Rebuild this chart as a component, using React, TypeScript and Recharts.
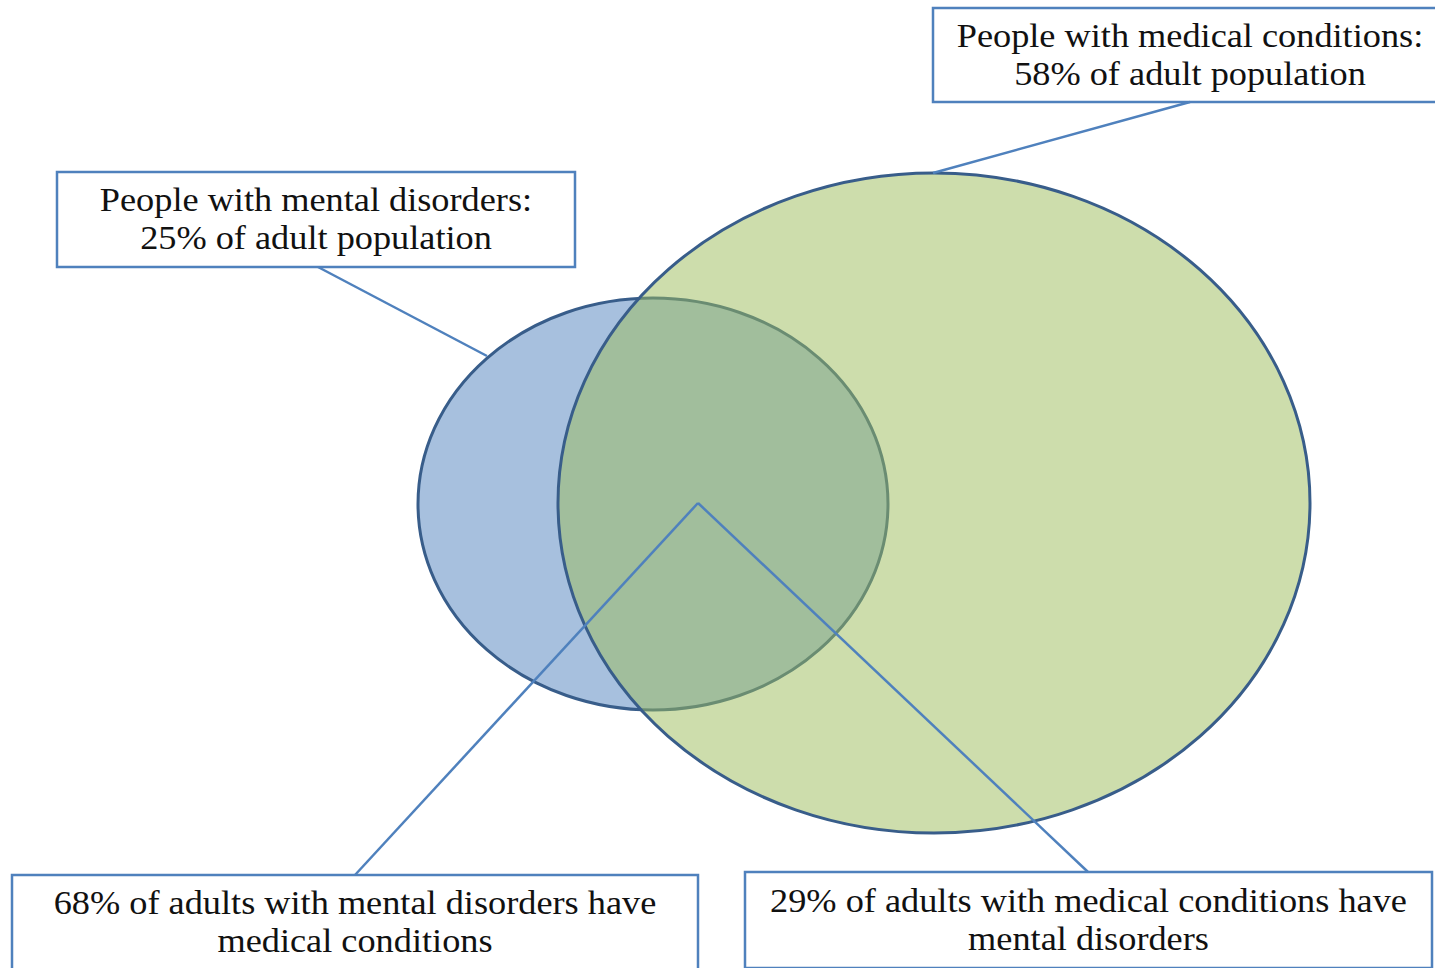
import { ScatterChart, Scatter, XAxis, YAxis, ReferenceArea } from "recharts";

const W = 1435;
const H = 968;

// ellipses (data units == picture pixels, y grows downward)
const mentalEllipse = [{ x: 653, y: 504, rx: 235, ry: 206 }];
const medicalEllipse = [{ x: 934, y: 503, rx: 376, ry: 330 }];

// callout boxes
const boxX1 = [933, 57, 12, 745];
const boxX2 = [1447, 575, 698, 1432];
const boxY1 = [8, 172, 875, 872];
const boxY2 = [102, 267, 970, 968];
const boxLines = [
  ["People with medical conditions:", "58% of adult population"],
  ["People with mental disorders:", "25% of adult population"],
  ["68% of adults with mental disorders have", "medical conditions"],
  ["29% of adults with medical conditions have", "mental disorders"],
];

// leader lines
const leaders = [
  [{ x: 1190, y: 102 }, { x: 933, y: 173 }],
  [{ x: 318, y: 267 }, { x: 487, y: 356 }],
  [{ x: 355, y: 875 }, { x: 698, y: 503 }],
  [{ x: 1088, y: 872 }, { x: 698, y: 503 }],
];

const OUTLINE = "#385d8a";
const ACCENT = "#4f81bd";

const makeEllipse = (fill: string) => (props: any) => {
  const { cx, cy, payload } = props;
  return (
    <ellipse
      cx={cx}
      cy={cy}
      rx={payload.rx}
      ry={payload.ry}
      fill={fill}
      fillOpacity={0.5}
      stroke={OUTLINE}
      strokeWidth={3}
    />
  );
};

// the source text is a little stretched sideways
const makeLabel = (lines: string[]) => (props: any) => {
  const vb = props.viewBox || {};
  const cx = vb.x + vb.width / 2;
  const cy = vb.y + vb.height / 2;
  return (
    <g transform={`translate(${cx} 0) scale(1.1 1) translate(${-cx} 0)`}>
      {lines.map((t, i) => (
        <text
          key={i}
          x={cx}
          y={cy + (i - (lines.length - 1) / 2) * 38}
          textAnchor="middle"
          dominantBaseline="central"
          style={{ fontFamily: "Liberation Serif", fontSize: 33 }}
          fill="#111"
        >
          {t}
        </text>
      ))}
    </g>
  );
};

export default function App() {
  return (
    <div style={{ position: "fixed", left: 0, top: 0, width: W, height: H, background: "#fff" }}>
      <ScatterChart width={W} height={H} margin={{ top: 0, right: 0, bottom: 0, left: 0 }}>
        <XAxis type="number" dataKey="x" domain={[0, W]} hide />
        <YAxis type="number" dataKey="y" domain={[0, H]} reversed hide />
        {boxLines.map((lines, i) => (
          <ReferenceArea
            key={`b${i}`}
            x1={boxX1[i]}
            x2={boxX2[i]}
            y1={boxY1[i]}
            y2={boxY2[i]}
            fill="#ffffff"
            fillOpacity={1}
            stroke={ACCENT}
            strokeWidth={2.5}
            ifOverflow="visible"
            label={makeLabel(lines)}
          />
        ))}
        <Scatter data={mentalEllipse} shape={makeEllipse(ACCENT)} isAnimationActive={false} />
        <Scatter data={medicalEllipse} shape={makeEllipse("#9bbb59")} isAnimationActive={false} />
        {leaders.map((seg, i) => (
          <Scatter
            key={`l${i}`}
            data={seg}
            line={{ stroke: ACCENT, strokeWidth: 2.5 }}
            shape={() => <g />}
            isAnimationActive={false}
          />
        ))}
      </ScatterChart>
    </div>
  );
}
